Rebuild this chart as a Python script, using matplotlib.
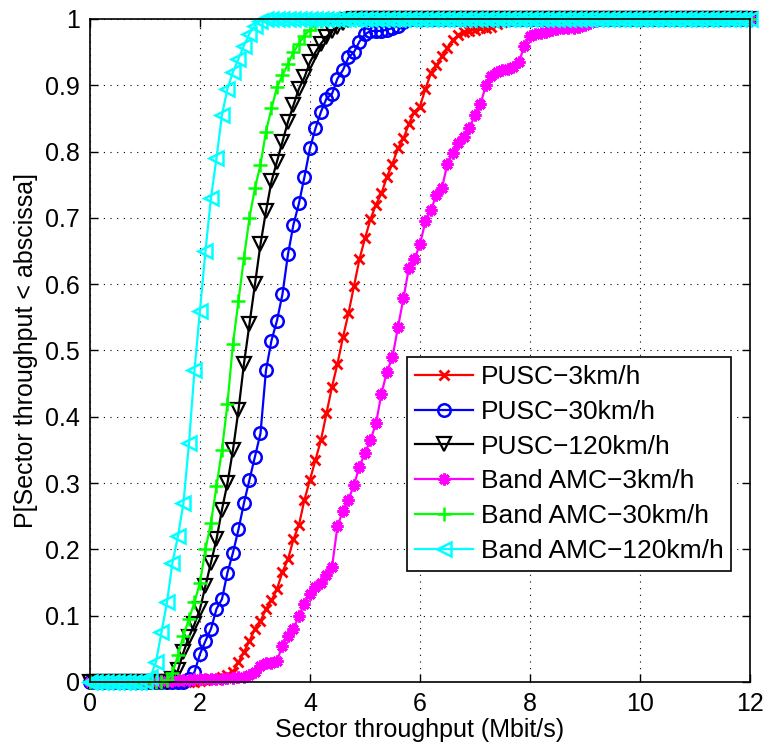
import numpy as np
import matplotlib
matplotlib.use('Agg')
import matplotlib.pyplot as plt

plt.rcParams['font.family'] = ['Liberation Sans', 'DejaVu Sans']

# throughput grid (Mbit/s), CDF sampled every 0.1
step = 0.1
x = np.round(np.arange(0, 12.0 + step / 2, step), 1)

labels = ['PUSC\u22123km/h', 'PUSC\u221230km/h', 'PUSC\u2212120km/h',
          'Band AMC\u22123km/h', 'Band AMC\u221230km/h', 'Band AMC\u2212120km/h']

# each series: first x where the listed values start, then values until it reaches 1
red_start = 2.0
red = [0.002, 0.003, 0.004, 0.005, 0.007, 0.01, 0.015, 0.03, 0.045, 0.062,
       0.08, 0.092, 0.11, 0.123, 0.14, 0.166, 0.185, 0.215, 0.237, 0.275,
       0.305, 0.335, 0.365, 0.405, 0.445, 0.48, 0.52, 0.556, 0.597, 0.638,
       0.669, 0.698, 0.72, 0.737, 0.762, 0.782, 0.805, 0.82, 0.842, 0.86,
       0.868, 0.895, 0.918, 0.93, 0.944, 0.957, 0.969, 0.976, 0.98, 0.982,
       0.984, 0.986, 0.987, 0.988, 0.992, 0.996]

blue_start = 1.8
blue = [0.004, 0.015, 0.042, 0.062, 0.08, 0.11, 0.125, 0.165, 0.195, 0.23,
        0.27, 0.305, 0.34, 0.375, 0.47, 0.515, 0.545, 0.585, 0.645, 0.69,
        0.722, 0.762, 0.805, 0.835, 0.86, 0.88, 0.887, 0.91, 0.923, 0.942,
        0.95, 0.966, 0.977, 0.982, 0.982, 0.982, 0.984, 0.986, 0.99, 0.995]

black_start = 1.5
black = [0.005, 0.018, 0.045, 0.068, 0.087, 0.11, 0.145, 0.18, 0.215, 0.26,
         0.3, 0.35, 0.41, 0.48, 0.54, 0.6, 0.66, 0.71, 0.755, 0.785,
         0.815, 0.845, 0.87, 0.895, 0.912, 0.935, 0.95, 0.963, 0.973, 0.982,
         0.988, 0.994, 0.998]

magenta_start = 1.3
magenta = [0.001, 0.002, 0.002, 0.003, 0.003, 0.003, 0.004, 0.004, 0.004, 0.005,
           0.005, 0.005, 0.006, 0.006, 0.007, 0.008, 0.01, 0.015, 0.024, 0.028,
           0.028, 0.032, 0.055, 0.07, 0.08, 0.1, 0.118, 0.133, 0.143, 0.15,
           0.161, 0.173, 0.235, 0.258, 0.275, 0.297, 0.325, 0.345, 0.365, 0.39,
           0.435, 0.468, 0.49, 0.535, 0.579, 0.625, 0.638, 0.66, 0.695, 0.712,
           0.735, 0.745, 0.782, 0.798, 0.813, 0.822, 0.836, 0.855, 0.872, 0.9,
           0.914, 0.92, 0.923, 0.925, 0.928, 0.935, 0.96, 0.974, 0.977, 0.979,
           0.981, 0.983, 0.985, 0.986, 0.986, 0.987, 0.988, 0.991, 0.994, 0.997]

green_start = 1.4
green = [0.003, 0.014, 0.04, 0.07, 0.095, 0.12, 0.15, 0.2, 0.24, 0.295,
         0.35, 0.42, 0.51, 0.575, 0.64, 0.7, 0.745, 0.78, 0.83, 0.865,
         0.897, 0.915, 0.932, 0.95, 0.963, 0.975, 0.984, 0.992, 0.997]

cyan_start = 1.0
cyan = [0.002, 0.008, 0.03, 0.075, 0.12, 0.18, 0.22, 0.27, 0.36, 0.47,
        0.56, 0.65, 0.73, 0.79, 0.855, 0.895, 0.92, 0.94, 0.96, 0.978,
        0.99, 0.997]


def full_cdf(start, vals):
    n0 = int(round(start / step))
    vals = np.array(vals)
    return np.concatenate([np.zeros(n0), vals, np.ones(len(x) - n0 - len(vals))])


fig = plt.figure(figsize=(7.67, 7.42), dpi=100)
ax = fig.add_axes([0.1173, 0.0809, 0.8605, 0.8935])

lw = 1.6
ax.plot(x, full_cdf(red_start, red), color='red', marker='x', ms=6.5, mew=2, lw=lw,
        clip_on=False, label=labels[0])
ax.plot(x, full_cdf(blue_start, blue), color='blue', marker='o', ms=9, mew=1.8, mfc='none', lw=lw,
        clip_on=False, label=labels[1])
ax.plot(x, full_cdf(black_start, black), color='black', marker='v', ms=10, mew=1.6, mfc='none', lw=lw,
        clip_on=False, label=labels[2])
ax.plot(x, full_cdf(magenta_start, magenta), color='magenta', marker=(8, 2, 0), ms=8.5, mew=2.2, lw=lw,
        clip_on=False, label=labels[3])
ax.plot(x, full_cdf(green_start, green), color='#00ff00', marker='+', ms=10, mew=1.8, lw=lw,
        clip_on=False, label=labels[4])
ax.plot(x, full_cdf(cyan_start, cyan), color='cyan', marker='<', ms=10, mew=1.8, mfc='none', lw=lw,
        clip_on=False, label=labels[5])

ax.set_xlim(0, 12)
ax.set_ylim(0, 1)
ax.set_xticks(np.arange(0, 13, 2))
ax.set_xticklabels(['0', '2', '4', '6', '8', '10', '12'])
ax.set_yticks(np.round(np.arange(0, 1.01, 0.1), 1))
ax.set_yticklabels(['0', '0.1', '0.2', '0.3', '0.4', '0.5', '0.6', '0.7', '0.8', '0.9', '1'])
ax.tick_params(direction='in', top=True, right=True, length=6, width=1, labelsize=18, pad=7)
ax.grid(True, color='black', linestyle=(0, (1, 5)), lw=0.8)
for s in ax.spines.values():
    s.set_linewidth(1.2)

ax.set_xlabel('Sector throughput (Mbit/s)', fontsize=18, labelpad=2)
ax.set_ylabel('P[Sector throughput < abscissa]', fontsize=18, labelpad=5)

leg = ax.legend(loc='upper left', bbox_to_anchor=(0.48, 0.49), borderaxespad=0,
                fontsize=19, numpoints=1, handlelength=2.2, handletextpad=0.3,
                labelspacing=0.41, borderpad=0.3, fancybox=False, framealpha=1,
                edgecolor='black')
leg.get_frame().set_linewidth(1.2)
leg.set_zorder(5)

plt.savefig('out.png', dpi=100)
